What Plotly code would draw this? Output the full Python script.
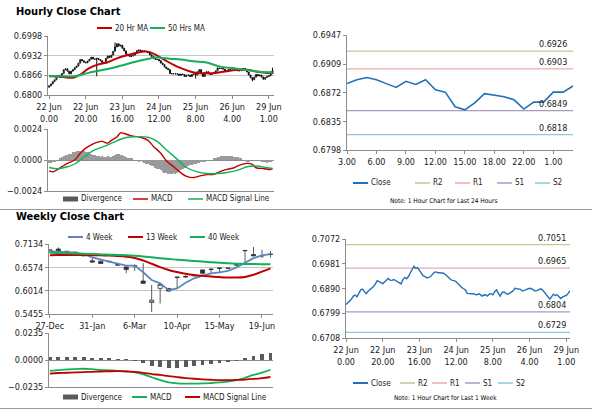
import plotly.graph_objects as go

FONT = "Liberation Sans Narrow, DejaVu Sans Condensed, Arial Narrow, Liberation Sans, Arial, sans-serif"
TXT = "#1a1a1a"

# ---------------- DATA ----------------
# Hourly (last week) -------------------------------------------------------
hourly_tick_idx = [0, 20, 40, 60, 80, 100, 120]
hourly_tick_text = ["22 Jun<br>0.00", "22 Jun<br>20.00", "23 Jun<br>16.00", "24 Jun<br>12.00",
                    "25 Jun<br>8.00", "26 Jun<br>4.00", "29 Jun<br>1.00"]
hourly_close = [
    0.6831, 0.6837, 0.6845, 0.6851, 0.6862, 0.6866, 0.6859, 0.6872, 0.6885, 0.6888,
    0.6880, 0.6871, 0.6880, 0.6885, 0.6892, 0.6897, 0.6907, 0.6919, 0.6915, 0.6910,
    0.6908, 0.6914, 0.6920, 0.6927, 0.6921, 0.6920, 0.6923, 0.6919, 0.6915, 0.6909,
    0.6907, 0.6923, 0.6931, 0.6926, 0.6934, 0.6947, 0.6961, 0.6972, 0.6964, 0.6967,
    0.6957, 0.6948, 0.6937, 0.6934, 0.6929, 0.6931, 0.6934, 0.6941, 0.6949, 0.6951,
    0.6948, 0.6948, 0.6947, 0.6946, 0.6942, 0.6935, 0.6929, 0.6923, 0.6920, 0.6919,
    0.6915, 0.6907, 0.6902, 0.6894, 0.6889, 0.6885, 0.6872, 0.6871, 0.6871, 0.6871,
    0.6870, 0.6866, 0.6870, 0.6869, 0.6862, 0.6866, 0.6867, 0.6862, 0.6869, 0.6871,
    0.6867, 0.6878, 0.6885, 0.6872, 0.6862, 0.6875, 0.6878, 0.6872, 0.6869, 0.6872,
    0.6876, 0.6881, 0.6891, 0.6889, 0.6889, 0.6887, 0.6881, 0.6882, 0.6886, 0.6888,
    0.6891, 0.6889, 0.6885, 0.6881, 0.6882, 0.6886, 0.6889, 0.6885, 0.6877, 0.6867,
    0.6858, 0.6851, 0.6860, 0.6869, 0.6864, 0.6867, 0.6860, 0.6853, 0.6859, 0.6862,
    0.6865, 0.6872, 0.6882]
hourly_first_open = 0.6826
hourly_spike_low = {26: 0.6863, 80: 0.6855, 111: 0.6846}
hourly_spike_high = {36: 0.6976, 122: 0.6892}

ma20_idx = [0, 6, 13, 17, 21, 26, 32, 37, 43, 48, 52, 55, 59, 63, 68, 72, 77, 81, 86, 92, 97, 102, 108, 113, 119, 122]
ma20_val = [0.6863, 0.6862, 0.6858, 0.6868, 0.6887, 0.6901, 0.6910, 0.6923, 0.6934, 0.6942, 0.6946, 0.6944, 0.6932,
            0.6918, 0.6901, 0.6890, 0.6879, 0.6874, 0.6873, 0.6875, 0.6880, 0.6884, 0.6885, 0.6879, 0.6874, 0.6876]
ma50_idx = [0, 6, 14, 19, 24, 32, 39, 46, 53, 58, 61, 66, 72, 79, 86, 93, 101, 108, 115, 122]
ma50_val = [0.6865, 0.6863, 0.6863, 0.6870, 0.6878, 0.6887, 0.6898, 0.6910, 0.6920, 0.6926, 0.6925, 0.6922,
            0.6919, 0.6913, 0.6909, 0.6896, 0.6889, 0.6884, 0.6878, 0.6876]

h_macd_idx = [0, 2, 4, 7, 10, 14, 17, 20, 23, 26, 29, 32, 34, 37, 39, 41, 44, 46, 50, 54, 57, 61, 64, 68, 72, 75,
              79, 83, 86, 90, 93, 97, 101, 104, 108, 111, 113, 117, 121, 122]
h_macd_val = [-0.00084, -0.00092, -0.00079, -0.00052, -0.00026, 0.0, 0.00052, 0.00092, 0.00118, 0.00136, 0.00144,
              0.00131, 0.00152, 0.00178, 0.00210, 0.00205, 0.00191, 0.00184, 0.00176, 0.00152, 0.00105, 0.00052,
              -0.00005, -0.00052, -0.00100, -0.00126, -0.00136, -0.00121, -0.00113, -0.00110, -0.00092, -0.00073,
              -0.00060, -0.00039, -0.00026, -0.00034, -0.00060, -0.00066, -0.00073, -0.00066]
h_signal_idx = [0, 5, 10, 14, 19, 24, 30, 35, 41, 44, 48, 54, 59, 64, 70, 75, 81, 86, 92, 97, 103, 108, 113, 119, 122]
h_signal_val = [-0.00058, -0.00068, -0.00052, -0.00031, 0.00021, 0.00073, 0.00105, 0.00136, 0.00170, 0.00178,
                0.00181, 0.00176, 0.00144, 0.00079, 0.00005, -0.00058, -0.00092, -0.00105, -0.00105, -0.00097,
                -0.00079, -0.00052, -0.00047, -0.00060, -0.00066]
h_divergence = [
    -0.0002, -0.0002, -0.0001, -0.0001, 0.0000, 0.0000,
    0.0001, 0.0002, 0.0003, 0.0004, 0.0004,
    0.0005, 0.0005, 0.0006, 0.0006, 0.0007,
    0.0007, 0.0007, 0.0006, 0.0007, 0.0006,
    0.0006, 0.0005, 0.0005, 0.0004, 0.0004,
    0.0003, 0.0003, 0.0002, 0.0003, 0.0002,
    0.0002, 0.0003, 0.0002, 0.0002, 0.0003,
    0.0004, 0.0005, 0.0005, 0.0004, 0.0004,
    0.0003, 0.0002, 0.0001, 0.0001, 0.0001,
    0.0000, 0.0000, 0.0000, -0.0001, 0.0000,
    -0.0001, -0.0002, -0.0003, -0.0003, -0.0004,
    -0.0005, -0.0005, -0.0006, -0.0007, -0.0007,
    -0.0008, -0.0009, -0.0010, -0.0010, -0.0011,
    -0.0011, -0.0011, -0.0010, -0.0011, -0.0010,
    -0.0009, -0.0008, -0.0007, -0.0006, -0.0006,
    -0.0005, -0.0004, -0.0004, -0.0003, -0.0003,
    -0.0002, -0.0002, -0.0001, -0.0001, -0.0001,
    0.0000, 0.0000, 0.0000, 0.0000, 0.0001,
    0.0001, 0.0002, 0.0002, 0.0003, 0.0003,
    0.0003, 0.0003, 0.0003, 0.0003, 0.0003,
    0.0002, 0.0002, 0.0002, 0.0001, 0.0001,
    0.0000, 0.0000, -0.0001, -0.0001, 0.0000,
    0.0000, 0.0000, 0.0000, 0.0000, 0.0000,
    -0.0001, -0.0001, -0.0001, -0.0002, -0.0001, -0.0001, 0.0000]

# Last 24 hours ------------------------------------------------------------
close_24h = [0.6884, 0.6889, 0.6892, 0.6889, 0.6884, 0.6879, 0.6887, 0.6883, 0.6889, 0.6876, 0.6873, 0.6854,
             0.6850, 0.6859, 0.6871, 0.6869, 0.6867, 0.6863, 0.6851, 0.6860, 0.6860, 0.6873, 0.6873, 0.6881]
tick_idx_24h = [0, 3, 6, 9, 12, 15, 18, 21]
tick_text_24h = ["3.00", "6.00", "9.00", "12.00", "15.00", "18.00", "22.00", "1.00"]
level_names = ["R2", "R1", "S1", "S2"]
levels_24h = [0.6926, 0.6903, 0.6849, 0.6818]
levels_1w = [0.7051, 0.6965, 0.6804, 0.6729]

# Weekly -------------------------------------------------------------------
weekly_tick_idx = [0, 5, 10, 15, 20, 25]
weekly_tick_text = ["27-Dec", "31-Jan", "6-Mar", "10-Apr", "15-May", "19-Jun"]
w_open = [0.6940, 0.7013, 0.6960, 0.6940, 0.6880, 0.6730, 0.6723, 0.6720, 0.6640, 0.6585, 0.6615, 0.6246, 0.5730,
          0.6069, 0.6069, 0.6345, 0.6355, 0.6370, 0.6513, 0.6530, 0.6560, 0.6550, 0.6640, 0.6980, 0.6880, 0.6860, 0.6890]
w_high = [0.7010, 0.7053, 0.6965, 0.6945, 0.6885, 0.6800, 0.6730, 0.6725, 0.6650, 0.6590, 0.6650, 0.6674, 0.6150,
          0.6175, 0.6075, 0.6351, 0.6390, 0.6390, 0.6520, 0.6553, 0.6570, 0.6565, 0.6660, 0.6990, 0.7061, 0.6995, 0.6970]
w_low = [0.6935, 0.6965, 0.6945, 0.6925, 0.6845, 0.6695, 0.6660, 0.6705, 0.6610, 0.6432, 0.6490, 0.6180, 0.5504,
         0.5705, 0.5995, 0.6069, 0.6330, 0.6360, 0.6425, 0.6430, 0.6455, 0.6540, 0.6590, 0.6670, 0.6845, 0.6795, 0.6810]
w_close = [0.6997, 0.6973, 0.6950, 0.6930, 0.6850, 0.6700, 0.6666, 0.6710, 0.6630, 0.6521, 0.6612, 0.6190, 0.5786,
           0.6166, 0.6004, 0.6330, 0.6345, 0.6380, 0.6432, 0.6525, 0.6550, 0.6555, 0.6630, 0.6975, 0.6850, 0.6850, 0.6885]
ma4 = [0.6956, 0.6956, 0.6940, 0.6924, 0.6892, 0.6811, 0.6755, 0.6714, 0.6666, 0.6617, 0.6617, 0.6456, 0.6270,
       0.6190, 0.6028, 0.6069, 0.6206, 0.6311, 0.6375, 0.6432, 0.6456, 0.6488, 0.6569, 0.6674, 0.6795, 0.6860, 0.6892]
ma13 = [0.6862, 0.6870, 0.6872, 0.6872, 0.6870, 0.6866, 0.6862, 0.6856, 0.6846, 0.6830, 0.6800, 0.6740, 0.6660,
        0.6580, 0.6510, 0.6460, 0.6420, 0.6390, 0.6370, 0.6355, 0.6340, 0.6330, 0.6330, 0.6345, 0.6395, 0.6470, 0.6550]
ma40 = [0.6925, 0.6920, 0.6915, 0.6905, 0.6898, 0.6892, 0.6885, 0.6878, 0.6870, 0.6862, 0.6850, 0.6835, 0.6815,
        0.6795, 0.6775, 0.6758, 0.6742, 0.6728, 0.6712, 0.6698, 0.6685, 0.6672, 0.6662, 0.6655, 0.6652, 0.6650, 0.6650]
w_divergence = [0.0024, 0.0024, 0.0029, 0.0029, 0.0024, 0.0018, 0.0015, 0.0012, 0.0006, 0.0003, -0.0003, -0.0024,
                -0.0053, -0.0059, -0.0073, -0.0073, -0.0059, -0.0053, -0.0044, -0.0035, -0.0024, -0.0015, -0.0003,
                0.0021, 0.0038, 0.0050, 0.0059]
w_macd = [-0.0094, -0.0088, -0.0082, -0.0079, -0.0076, -0.0080, -0.0086, -0.0090, -0.0094, -0.0100, -0.0108, -0.0125,
          -0.0150, -0.0176, -0.0195, -0.0204, -0.0206, -0.0206, -0.0204, -0.0200, -0.0195, -0.0188, -0.0176, -0.0155,
          -0.0130, -0.0110, -0.0085]
w_signal = [-0.0118, -0.0113, -0.0111, -0.0108, -0.0105, -0.0103, -0.0100, -0.0098, -0.0097, -0.0099, -0.0104,
            -0.0112, -0.0122, -0.0130, -0.0140, -0.0149, -0.0157, -0.0163, -0.0168, -0.0172, -0.0175, -0.0175,
            -0.0173, -0.0170, -0.0165, -0.0158, -0.0148]

# ---------------- STYLE ----------------
RED = "#c00000"
GREEN = "#13b05a"
BLUE_CLOSE = "#2470b8"
BLUE_W = "#5b86c0"
GREY_BAR_H = "#9a9a9a"
GREY_BAR_W = "#5a5a5a"
LEVEL_COLORS = ["#c9c595", "#e8adad", "#a99bbd", "#86cbdb"]
W, H = 600, 413


def dx(a, b):
    return [a / W, b / W]


def dy(top, bottom):
    return [1 - bottom / H, 1 - top / H]


fig = go.Figure()

# derived candle table for hourly panel
h_idx = list(range(len(hourly_close)))
h_open = [hourly_first_open] + hourly_close[:-1]
h_high = [max(o, c) for o, c in zip(h_open, hourly_close)]
h_low = [min(o, c) for o, c in zip(h_open, hourly_close)]
for k, v in hourly_spike_low.items():
    h_low[k] = v
for k, v in hourly_spike_high.items():
    h_high[k] = v

# Panel 1: hourly candles + MAs
fig.add_trace(go.Candlestick(x=h_idx, open=h_open, high=h_high, low=h_low, close=hourly_close,
                             xaxis="x", yaxis="y",
                             increasing=dict(line=dict(color="#111", width=1), fillcolor="white"),
                             decreasing=dict(line=dict(color="#111", width=1), fillcolor="#111"),
                             whiskerwidth=0, hoverinfo="skip"))
fig.add_trace(go.Scatter(x=ma20_idx, y=ma20_val, mode="lines", line=dict(color=RED, width=2, shape="spline"),
                         xaxis="x", yaxis="y"))
fig.add_trace(go.Scatter(x=ma50_idx, y=ma50_val, mode="lines", line=dict(color=GREEN, width=2, shape="spline"),
                         xaxis="x", yaxis="y"))

# Panel 2: hourly MACD
fig.add_trace(go.Bar(x=h_idx, y=h_divergence, marker=dict(color=GREY_BAR_H, line=dict(width=0)),
                     width=0.55, xaxis="x2", yaxis="y2"))
fig.add_trace(go.Scatter(x=h_macd_idx, y=h_macd_val, mode="lines", line=dict(color=RED, width=1.4, shape="spline"),
                         xaxis="x2", yaxis="y2"))
fig.add_trace(go.Scatter(x=h_signal_idx, y=h_signal_val, mode="lines",
                         line=dict(color=GREEN, width=1.4, shape="spline"), xaxis="x2", yaxis="y2"))

# Panel 3: last 24 hours with levels
idx24 = list(range(len(close_24h)))
for lv, col in zip(levels_24h, LEVEL_COLORS):
    fig.add_trace(go.Scatter(x=idx24, y=[lv] * len(idx24), mode="lines", line=dict(color=col, width=1.3),
                             xaxis="x3", yaxis="y3"))
fig.add_trace(go.Scatter(x=idx24, y=close_24h, mode="lines", line=dict(color=BLUE_CLOSE, width=1.6),
                         xaxis="x3", yaxis="y3"))

# Panel 4: last week with levels
for lv, col in zip(levels_1w, LEVEL_COLORS):
    fig.add_trace(go.Scatter(x=h_idx, y=[lv] * len(h_idx), mode="lines", line=dict(color=col, width=1.3),
                             xaxis="x4", yaxis="y4"))
fig.add_trace(go.Scatter(x=h_idx, y=hourly_close, mode="lines", line=dict(color=BLUE_CLOSE, width=1.4),
                         xaxis="x4", yaxis="y4"))

# Panel 5: weekly candles + MAs
w_idx = list(range(len(w_close)))
fig.add_trace(go.Candlestick(x=w_idx, open=w_open, high=w_high, low=w_low, close=w_close, xaxis="x5", yaxis="y5",
                             whiskerwidth=0,
                             increasing=dict(line=dict(color="#333", width=0.8), fillcolor="white"),
                             decreasing=dict(line=dict(color="#333", width=0.8), fillcolor="#333"),
                             hoverinfo="skip"))
fig.add_trace(go.Scatter(x=w_idx, y=ma4, mode="lines", line=dict(color=BLUE_W, width=1.8),
                         xaxis="x5", yaxis="y5"))
fig.add_trace(go.Scatter(x=w_idx, y=ma13, mode="lines", line=dict(color=RED, width=2, shape="spline"),
                         xaxis="x5", yaxis="y5"))
fig.add_trace(go.Scatter(x=w_idx, y=ma40, mode="lines", line=dict(color=GREEN, width=2, shape="spline"),
                         xaxis="x5", yaxis="y5"))

# Panel 6: weekly MACD
fig.add_trace(go.Bar(x=w_idx, y=w_divergence, marker=dict(color=GREY_BAR_W, line=dict(width=0)),
                     width=0.45, xaxis="x6", yaxis="y6"))
fig.add_trace(go.Scatter(x=w_idx, y=w_macd, mode="lines", line=dict(color=GREEN, width=1.8, shape="spline"),
                         xaxis="x6", yaxis="y6"))
fig.add_trace(go.Scatter(x=w_idx, y=w_signal, mode="lines",
                         line=dict(color=RED, width=1.8, shape="spline"), xaxis="x6", yaxis="y6"))

TICKF = dict(family=FONT, size=9, color=TXT)
AX = dict(showline=True, linecolor="#8c8c8c", linewidth=1, ticks="outside", ticklen=3, tickcolor="#8c8c8c",
          tickfont=TICKF, zeroline=False, fixedrange=True, automargin=False)


def xax(domain, rng, anchor, tickvals=None, ticktext=None, show_labels=True):
    d = dict(AX, domain=domain, range=rng, anchor=anchor, showgrid=False, rangeslider=dict(visible=False))
    if tickvals is not None:
        d.update(tickmode="array", tickvals=tickvals, ticktext=ticktext)
    else:
        d.update(tickmode="array", tickvals=[])
    d["showticklabels"] = show_labels
    return d


def yax(domain, rng, anchor, tickvals, grid=True):
    return dict(AX, domain=domain, range=rng, anchor=anchor, tickmode="array", tickvals=tickvals,
                tickformat=".4f", showgrid=grid, gridcolor="#c4c4c4", gridwidth=1)


layout = dict(
    template="none",
    width=W, height=H, margin=dict(l=0, r=0, t=0, b=0, pad=0), paper_bgcolor="white", plot_bgcolor="white",
    font=dict(family=FONT, color=TXT), bargap=0, showlegend=False,
    xaxis=xax(dx(48, 274), [-0.6, 122.8], "y", hourly_tick_idx, hourly_tick_text),
    yaxis=yax(dy(36, 95), [0.6800, 0.6998], "x", [0.6800, 0.6866, 0.6932, 0.6998]),
    xaxis2=xax(dx(48, 274), [-0.6, 122.8], "y2", None, None, False),
    yaxis2=yax(dy(129, 191), [-0.0024, 0.0024], "x2", [-0.0024, 0.0, 0.0024]),
    xaxis3=xax(dx(347, 573), [0, 23], "y3", tick_idx_24h, tick_text_24h),
    yaxis3=yax(dy(35, 150), [0.6798, 0.6947], "x3", [0.6798, 0.6835, 0.6872, 0.6909, 0.6947], grid=False),
    xaxis4=xax(dx(346, 570), [0, 122], "y4", hourly_tick_idx, hourly_tick_text),
    yaxis4=yax(dy(239, 338), [0.6708, 0.7072], "x4", [0.6708, 0.6799, 0.6890, 0.6981, 0.7072], grid=False),
    xaxis5=xax(dx(49, 273), [-0.1, 26.3], "y5", weekly_tick_idx, weekly_tick_text),
    yaxis5=yax(dy(244, 314), [0.5455, 0.7134], "x5", [0.5455, 0.6014, 0.6574, 0.7134]),
    xaxis6=xax(dx(49, 273), [-0.1, 26.3], "y6", None, None, False),
    yaxis6=yax(dy(333, 387), [-0.0235, 0.0235], "x6", [-0.0235, 0.0, 0.0235]),
)
for k in ("yaxis2", "yaxis6"):
    layout[k]["zeroline"] = True
    layout[k]["zerolinecolor"] = "#8c8c8c"
    layout[k]["zerolinewidth"] = 1
fig.update_layout(**layout)

ann = []
shapes = []


def P(xpx, ypx):
    return xpx / W, 1 - ypx / H


def text(t, xpx, ypx, size, anchor="left", bold=False, color="#000"):
    x, y = P(xpx, ypx)
    ann.append(dict(text=f"<b>{t}</b>" if bold else t, x=x, y=y, xref="paper", yref="paper",
                    xanchor=anchor, yanchor="middle", showarrow=False,
                    font=dict(family=FONT, size=size, color=color)))


def legend_items(ypx, items, size=8):
    # items: (x_start_px, label, color, kind)
    for x0, label, col, kind in items:
        a, yy = P(x0, ypx)
        b, _ = P(x0 + 15, ypx)
        if kind == "bar":
            _, y0 = P(0, ypx + 2.5)
            _, y1 = P(0, ypx - 2.5)
            shapes.append(dict(type="rect", xref="paper", yref="paper", x0=a, x1=b, y0=y0, y1=y1,
                               fillcolor=col, line=dict(width=0)))
        else:
            shapes.append(dict(type="line", xref="paper", yref="paper", x0=a, x1=b, y0=yy, y1=yy,
                               line=dict(color=col, width=2 if kind == "thick" else 1.5)))
        text(label, x0 + 16, ypx, size, color=TXT)


# titles and notes
text("Hourly Close Chart", 14, 11, 11, bold=True)
text("Weekly Close Chart", 14, 216, 11, bold=True)
text("Note: 1 Hour Chart for Last 24 Hours", 443, 201, 6.5, anchor="center")
text("Note: 1 Hour Chart for Last 1 Week", 445, 398, 6.5, anchor="center")

# legends
legend_items(28, [(97, "20 Hr MA", RED, "thick"), (150, "50 Hrs MA", GREEN, "thick")])
legend_items(199, [(63, "Divergence", GREY_BAR_W, "bar"), (133, "MACD", RED, "line"),
                   (188, "MACD Signal Line", GREEN, "line")])
legend_items(183, [(353, "Close", BLUE_CLOSE, "thick"), (415, "R2", LEVEL_COLORS[0], "line"),
                   (455, "R1", LEVEL_COLORS[1], "line"), (497, "S1", LEVEL_COLORS[2], "line"),
                   (535, "S2", LEVEL_COLORS[3], "line")])
legend_items(383, [(353, "Close", BLUE_CLOSE, "thick"), (400, "R2", LEVEL_COLORS[0], "line"),
                   (432, "R1", LEVEL_COLORS[1], "line"), (465, "S1", LEVEL_COLORS[2], "line"),
                   (498, "S2", LEVEL_COLORS[3], "line")])
legend_items(237, [(68, "4 Week", BLUE_W, "thick"), (128, "13 Week", RED, "thick"),
                   (190, "40 Week", GREEN, "thick")])
legend_items(397, [(63, "Divergence", GREY_BAR_W, "bar"), (132, "MACD", GREEN, "thick"),
                   (185, "MACD Signal Line", RED, "thick")])

# level value labels
for lv in levels_24h:
    ann.append(dict(text=f"{lv:.4f}", x=23, y=lv, xref="x3", yref="y3", xanchor="right", yanchor="bottom",
                    xshift=-4, yshift=0, showarrow=False, font=dict(family=FONT, size=9, color=TXT)))
for lv in levels_1w:
    ann.append(dict(text=f"{lv:.4f}", x=122, y=lv, xref="x4", yref="y4", xanchor="right", yanchor="bottom",
                    xshift=-2, yshift=0, showarrow=False, font=dict(family=FONT, size=9, color=TXT)))

# separators
for ypx in (209.5, 408.5):
    _, yy = P(0, ypx)
    shapes.append(dict(type="line", xref="paper", yref="paper", x0=0, x1=592 / W, y0=yy, y1=yy,
                       line=dict(color="#9a9a9a", width=1.2)))

fig.update_layout(annotations=ann, shapes=shapes)

fig.write_html("out.html", config={"displayModeBar": False, "responsive": False},
               post_script="document.body.style.margin='0';")
